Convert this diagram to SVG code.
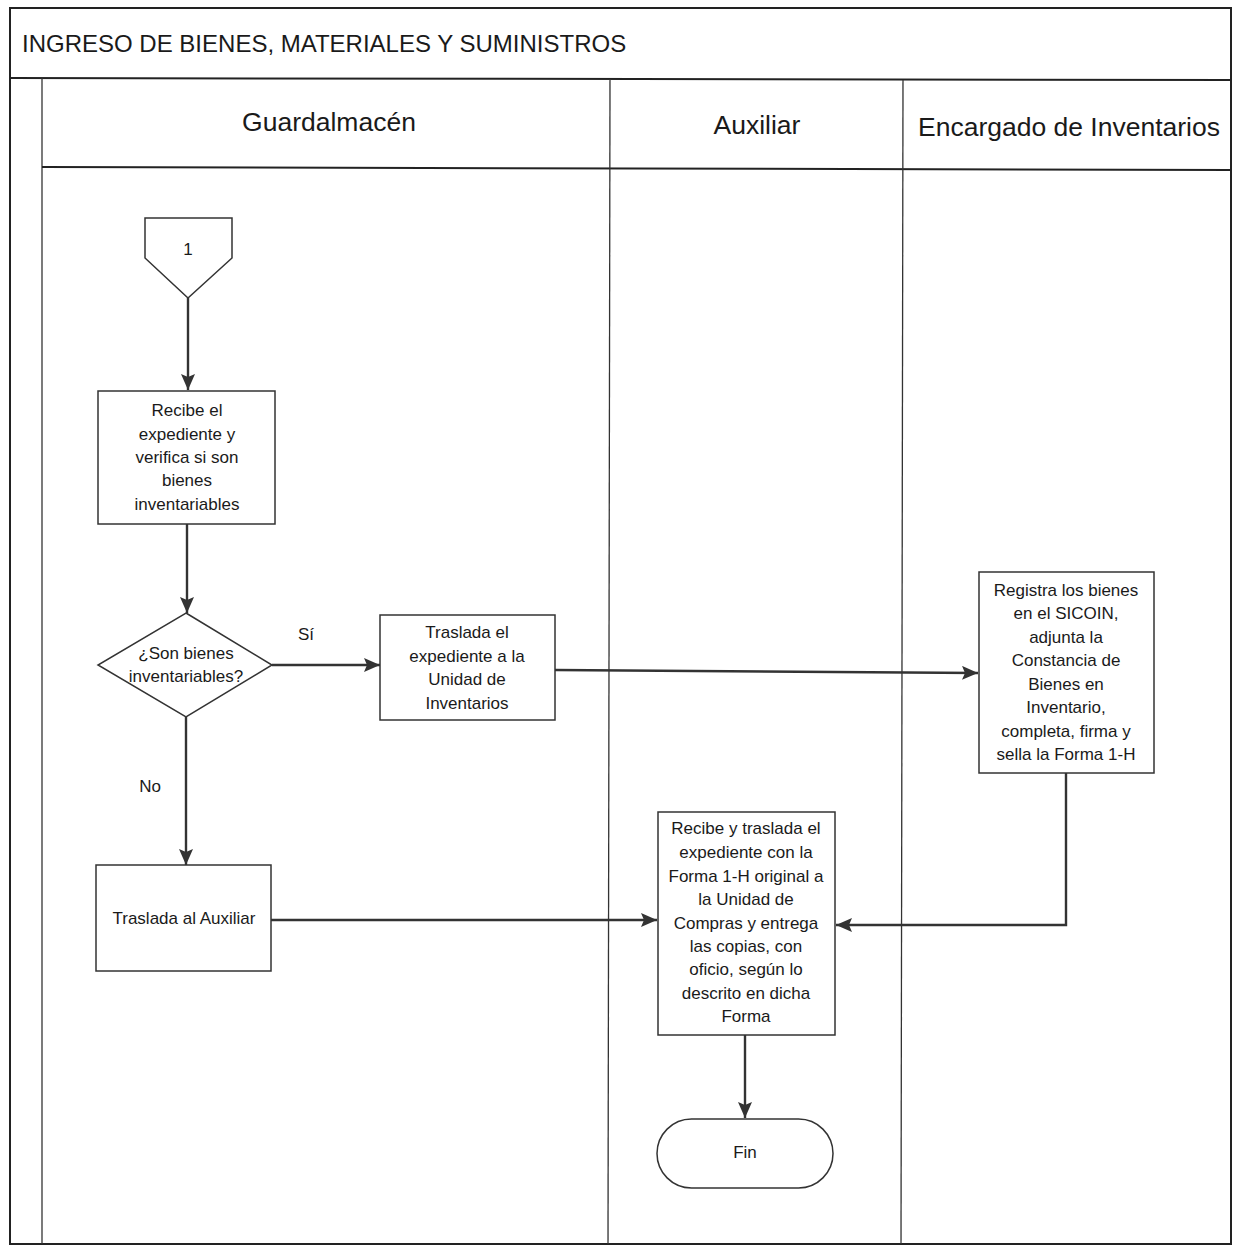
<svg xmlns="http://www.w3.org/2000/svg" width="1236" height="1254" viewBox="0 0 1236 1254">
<style>
.frame{fill:none;stroke:#222;stroke-width:2}
.thin{fill:none;stroke:#333;stroke-width:1.3}
.node{fill:#fff;stroke:#333;stroke-width:1.5}
.conn{fill:none;stroke:#333;stroke-width:2.4}
text{font-family:"Liberation Sans",Arial,sans-serif;fill:#1a1a1a}
.t{font-size:17px;text-anchor:middle}
.lane{font-size:26.5px;text-anchor:middle}
.title{font-size:24px}
</style>
<defs>
<marker id="arr" viewBox="0 0 16 14" refX="16" refY="7" markerWidth="16" markerHeight="14" markerUnits="userSpaceOnUse" orient="auto">
<path d="M0,0 L16,7 L0,14 L3,7 Z" fill="#333"/>
</marker>
</defs>
<rect width="1236" height="1254" fill="#fff"/>
<g id="frame">
<rect class="frame" x="10" y="8" width="1221" height="1236"/>
<line class="frame" x1="10" y1="78" x2="1231" y2="80"/>
<line class="thin" x1="42" y1="78" x2="42" y2="1244"/>
<line class="frame" x1="42" y1="167" x2="1231" y2="170"/>
<line class="thin" x1="610" y1="79" x2="608" y2="1244"/>
<line class="thin" x1="903" y1="80" x2="901" y2="1244"/>
<text class="title" x="22" y="52">INGRESO DE BIENES, MATERIALES Y SUMINISTROS</text>
<text class="lane" x="329" y="131">Guardalmacén</text>
<text class="lane" x="757" y="134">Auxiliar</text>
<text class="lane" x="1069" y="136">Encargado de Inventarios</text>
</g>
<g id="connectors">
<line class="conn" x1="188" y1="298" x2="188" y2="390" marker-end="url(#arr)"/>
<line class="conn" x1="187" y1="524" x2="187" y2="613" marker-end="url(#arr)"/>
<line class="conn" x1="272" y1="665" x2="380" y2="665" marker-end="url(#arr)"/>
<line class="conn" x1="555" y1="670" x2="978" y2="673" marker-end="url(#arr)"/>
<polyline class="conn" points="1066,773 1066,925 836,925" marker-end="url(#arr)"/>
<line class="conn" x1="186" y1="717" x2="186" y2="865" marker-end="url(#arr)"/>
<line class="conn" x1="271" y1="920" x2="657" y2="920" marker-end="url(#arr)"/>
<line class="conn" x1="745" y1="1035" x2="745" y2="1118" marker-end="url(#arr)"/>
<text class="t" x="306" y="640">Sí</text>
<text class="t" x="150" y="792">No</text>
</g>
<g id="n_connector1">
<polygon class="node" points="145,218 232,218 232,258 188,298 145,258"/>
<text class="t" x="188" y="255">1</text>
</g>
<g id="n_recibe">
<rect class="node" x="98" y="391" width="177" height="133"/>
<text class="t" x="187" y="416">Recibe el</text>
<text class="t" x="187" y="440">expediente y</text>
<text class="t" x="187" y="463">verifica si son</text>
<text class="t" x="187" y="486">bienes</text>
<text class="t" x="187" y="510">inventariables</text>
</g>
<g id="n_decision">
<polygon class="node" points="186,613 272,665 186,717 98,665"/>
<text class="t" x="186" y="659">¿Son bienes</text>
<text class="t" x="186" y="682">inventariables?</text>
</g>
<g id="n_traslada_inv">
<rect class="node" x="380" y="615" width="175" height="105"/>
<text class="t" x="467" y="638">Traslada el</text>
<text class="t" x="467" y="662">expediente a la</text>
<text class="t" x="467" y="685">Unidad de</text>
<text class="t" x="467" y="709">Inventarios</text>
</g>
<g id="n_registra">
<rect class="node" x="979" y="572" width="175" height="201"/>
<text class="t" x="1066" y="596">Registra los bienes</text>
<text class="t" x="1066" y="619">en el SICOIN,</text>
<text class="t" x="1066" y="643">adjunta la</text>
<text class="t" x="1066" y="666">Constancia de</text>
<text class="t" x="1066" y="690">Bienes en</text>
<text class="t" x="1066" y="713">Inventario,</text>
<text class="t" x="1066" y="737">completa, firma y</text>
<text class="t" x="1066" y="760">sella la Forma 1-H</text>
</g>
<g id="n_traslada_aux">
<rect class="node" x="96" y="865" width="175" height="106"/>
<text class="t" x="184" y="924">Traslada al Auxiliar</text>
</g>
<g id="n_recibe_traslada">
<rect class="node" x="658" y="812" width="177" height="223"/>
<text class="t" x="746" y="834">Recibe y traslada el</text>
<text class="t" x="746" y="858">expediente con la</text>
<text class="t" x="746" y="882">Forma 1-H original a</text>
<text class="t" x="746" y="905">la Unidad de</text>
<text class="t" x="746" y="929">Compras y entrega</text>
<text class="t" x="746" y="952">las copias, con</text>
<text class="t" x="746" y="975">oficio, según lo</text>
<text class="t" x="746" y="999">descrito en dicha</text>
<text class="t" x="746" y="1022">Forma</text>
</g>
<g id="n_fin">
<rect class="node" x="657" y="1119" width="176" height="69" rx="34.5"/>
<text class="t" x="745" y="1158">Fin</text>
</g>
</svg>
